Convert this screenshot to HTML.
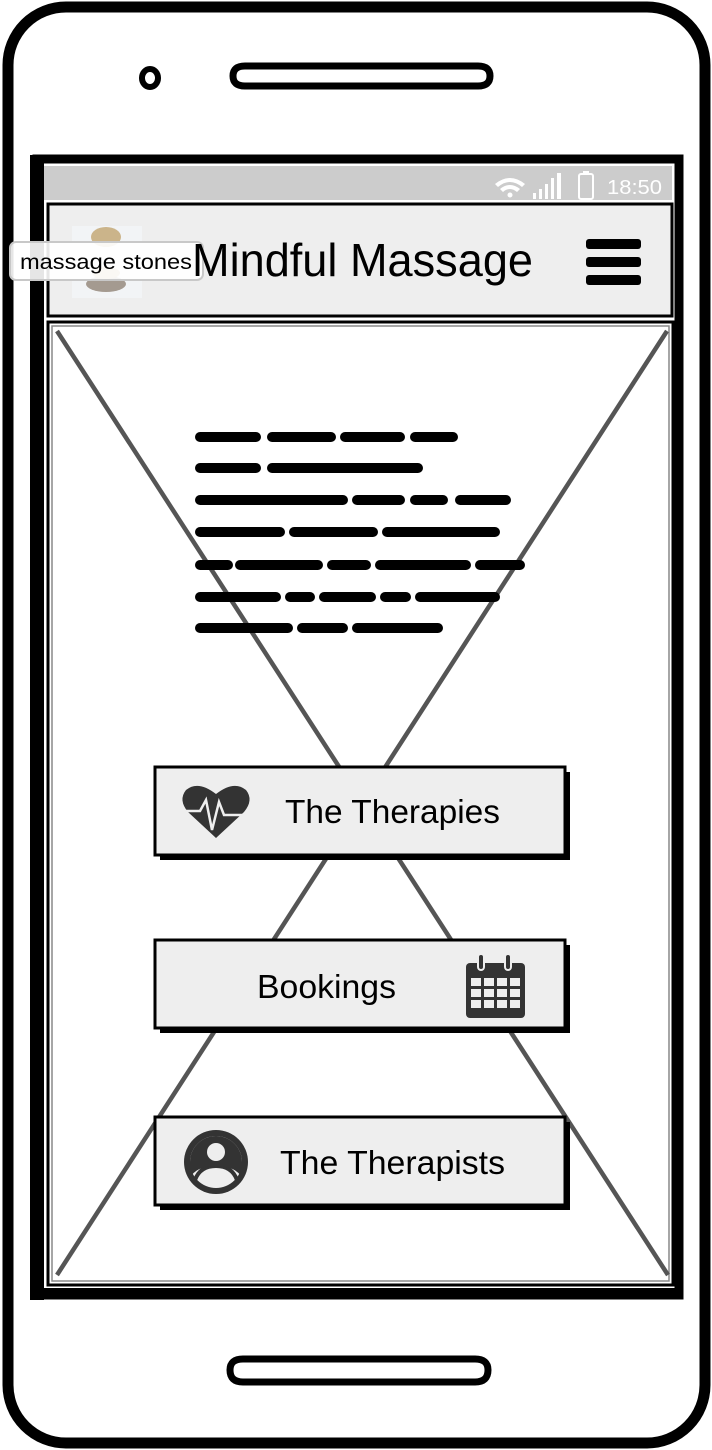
<!DOCTYPE html>
<html><head><style>
html,body{margin:0;padding:0;background:#fff;}
svg{display:block;}
text{font-family:"Liberation Sans",sans-serif;}
</style></head><body>
<svg width="712" height="1450" viewBox="0 0 712 1450" xmlns="http://www.w3.org/2000/svg">
<!-- phone body -->
<rect x="8" y="7" width="697" height="1436" rx="58" ry="58" fill="#fff" stroke="#000" stroke-width="11"/>
<!-- camera & speakers -->
<ellipse cx="150" cy="78" rx="8" ry="9" fill="none" stroke="#000" stroke-width="6"/>
<path d="M245,66 L478,66 Q490,66 490,76 Q490,86 478,86 L245,86 Q233,86 233,76 Q233,66 245,66 Z" fill="#fff" stroke="#000" stroke-width="7"/>
<path d="M243,1359 L475,1359 Q488,1359 488,1370 Q488,1382 475,1382 L243,1382 Q230,1382 230,1370 Q230,1359 243,1359 Z" fill="#fff" stroke="#000" stroke-width="7"/>
<!-- screen frame -->
<rect x="37" y="159" width="642" height="1136" fill="#fff" stroke="#000" stroke-width="9"/>
<rect x="30" y="155" width="14" height="1145" fill="#000"/>
<rect x="35" y="1288" width="648" height="11" fill="#000"/>
<!-- status bar -->
<rect x="44" y="166" width="628" height="34" fill="#cccccc"/>
<g fill="#fff">
<path d="M495,184 Q510,172 525,184 L522,187 Q510,177 498,187 Z"/>
<path d="M500,189 Q510,181 520,189 L517,192 Q510,186 503,192 Z"/>
<circle cx="510" cy="195" r="2.5"/>
<rect x="533" y="193" width="3" height="6"/><rect x="539" y="189" width="3" height="10"/><rect x="545" y="184" width="3" height="15"/><rect x="551" y="178" width="3" height="21"/><rect x="557" y="173" width="4" height="26"/>
<rect x="579" y="174" width="14" height="25" rx="2" fill="none" stroke="#fff" stroke-width="2"/>
<rect x="583" y="171" width="6" height="3"/>
</g>
<text x="607" y="194" font-size="20" fill="#fff" textLength="55" lengthAdjust="spacingAndGlyphs">18:50</text>
<!-- header -->
<rect x="48" y="204" width="624" height="112" fill="#eeeeee" stroke="#000" stroke-width="3"/>
<rect x="72" y="226" width="70" height="72" fill="#f2f4f6"/>
<ellipse cx="106" cy="237" rx="15" ry="10" fill="#cbb48a"/>
<ellipse cx="106" cy="284" rx="20" ry="8" fill="#a49a90"/>
<ellipse cx="106" cy="273" rx="14" ry="6" fill="#c9b38b"/>
<rect x="10" y="242" width="193" height="38" rx="6" fill="#fff" fill-opacity="0.9" stroke="#c8c8c8" stroke-width="2"/>
<text x="20" y="269" font-size="21" fill="#000" textLength="172" lengthAdjust="spacingAndGlyphs">massage stones</text>
<text x="192" y="276" font-size="46" fill="#000" textLength="341" lengthAdjust="spacingAndGlyphs">Mindful Massage</text>
<rect x="586" y="239" width="55" height="10" rx="3" fill="#000"/>
<rect x="586" y="257" width="55" height="10" rx="3" fill="#000"/>
<rect x="586" y="275" width="55" height="10" rx="3" fill="#000"/>
<!-- content box -->
<rect x="48" y="322" width="625" height="963" fill="#fff" stroke="#000" stroke-width="3"/>
<rect x="52" y="326" width="617" height="955" fill="none" stroke="#888" stroke-width="1.5"/>
<line x1="57" y1="331" x2="668" y2="1275" stroke="#555" stroke-width="4.5"/>
<line x1="667" y1="331" x2="57" y2="1275" stroke="#555" stroke-width="4.5"/>
<!-- scribble text -->
<g stroke="#000" stroke-width="10" stroke-linecap="round" fill="none">
<path d="M200,437H256M272,437H331M345,437H400M415,437H453"/>
<path d="M200,468H256M272,468H418"/>
<path d="M200,500H343M357,500H400M415,500H443M460,500H506"/>
<path d="M200,532H280M294,532H373M387,532H495"/>
<path d="M200,565H228M240,565H318M332,565H366M380,565H466M480,565H520"/>
<path d="M200,597H276M290,597H310M324,597H371M385,597H406M420,597H495"/>
<path d="M200,628H288M302,628H343M357,628H438"/>
</g>
<!-- buttons -->
<g>
<rect x="160" y="772" width="410" height="88" fill="#000"/>
<rect x="155" y="767" width="410" height="88" fill="#eeeeee" stroke="#000" stroke-width="3"/>
<path d="M216,838 L188,812 Q178,800 186,790 Q198,780 216,794 Q234,780 246,790 Q254,800 244,812 Z" fill="#333"/>
<path d="M186,811 H200 L206,800 L212,830 L219,802 L224,815 H246" fill="none" stroke="#eee" stroke-width="2.5"/>
<text x="285" y="823" font-size="33" fill="#000" textLength="215" lengthAdjust="spacingAndGlyphs">The Therapies</text>

<rect x="160" y="945" width="410" height="88" fill="#000"/>
<rect x="155" y="940" width="410" height="88" fill="#eeeeee" stroke="#000" stroke-width="3"/>
<text x="257" y="998" font-size="33" fill="#000" textLength="139" lengthAdjust="spacingAndGlyphs">Bookings</text>
<rect x="466" y="963" width="59" height="55" rx="4" fill="#333"/>
<rect x="478" y="954" width="6" height="16" rx="3" fill="#333" stroke="#eee" stroke-width="2"/>
<rect x="505" y="954" width="6" height="16" rx="3" fill="#333" stroke="#eee" stroke-width="2"/>
<g fill="#eee">
<rect x="471" y="978" width="10" height="8"/><rect x="484" y="978" width="10" height="8"/><rect x="497" y="978" width="10" height="8"/><rect x="510" y="978" width="10" height="8"/>
<rect x="471" y="989" width="10" height="8"/><rect x="484" y="989" width="10" height="8"/><rect x="497" y="989" width="10" height="8"/><rect x="510" y="989" width="10" height="8"/>
<rect x="471" y="1000" width="10" height="8"/><rect x="484" y="1000" width="10" height="8"/><rect x="497" y="1000" width="10" height="8"/><rect x="510" y="1000" width="10" height="8"/>
</g>

<rect x="160" y="1122" width="410" height="88" fill="#000"/>
<rect x="155" y="1117" width="410" height="88" fill="#eeeeee" stroke="#000" stroke-width="3"/>
<circle cx="216" cy="1162" r="32" fill="#333"/>
<circle cx="216" cy="1162" r="26" fill="#eee"/>
<circle cx="216" cy="1152" r="13" fill="#333"/>
<circle cx="216" cy="1152" r="9" fill="#eee"/>
<path d="M195,1180 Q200,1166 216,1166 Q232,1166 237,1180" fill="none" stroke="#333" stroke-width="4"/>
<path d="M190,1162 A26,26 0 0 1 242,1162 L242,1178 Q236,1166 216,1166 Q196,1166 190,1178 Z" fill="#333"/>
<circle cx="216" cy="1152" r="9" fill="#eee"/>
<text x="280" y="1174" font-size="33" fill="#000" textLength="225" lengthAdjust="spacingAndGlyphs">The Therapists</text>
</g>
</svg>
</body></html>
